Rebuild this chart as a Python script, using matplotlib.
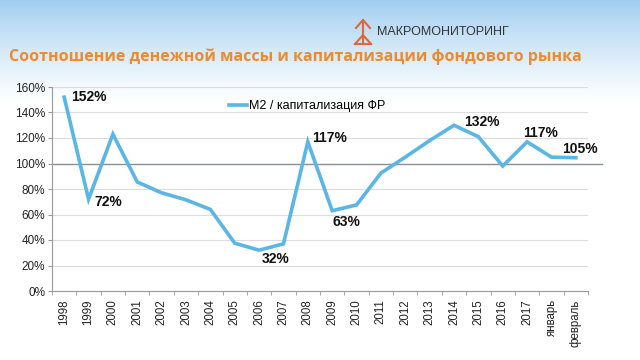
import numpy as np
import matplotlib
matplotlib.use("Agg")
import matplotlib.pyplot as plt

plt.rcParams['font.family'] = ['Liberation Sans', 'DejaVu Sans']

# data
categories = ["1998", "1999", "2000", "2001", "2002", "2003", "2004", "2005", "2006", "2007",
              "2008", "2009", "2010", "2011", "2012", "2013", "2014", "2015", "2016", "2017",
              "январь", "февраль"]
ratio = [152, 72, 123, 85.5, 77, 71.5, 64, 37.5, 32, 37,
         117, 63, 67.5, 92.5, 105, 118, 130, 121, 98, 117,
         105, 104.5]
labels_idx = [0, 1, 8, 10, 11, 16, 19, 21]
labels_txt = ["152%", "72%", "32%", "117%", "63%", "132%", "117%", "105%"]
labels_off = [(5, 0), (4, -2), (2, -6), (3, 3), (0, -8), (7, 2), (-3, 6), (-10, 6)]

title = "Соотношение денежной массы и капитализации фондового рынка"
series_name = "M2 / капитализация ФР"

fig = plt.figure(figsize=(6.4, 3.6), dpi=100)

# sky background
bg = fig.add_axes([0, 0, 1, 1])
grad = np.linspace(0, 1, 360)[:, None]
top = np.array([0.62, 0.80, 0.94])
white = np.array([1.0, 1.0, 1.0])
w = np.clip(grad / 0.28, 0, 1) ** 0.8
img = top[None, None, :] * (1 - w[..., None]) + white[None, None, :] * w[..., None]
img = np.repeat(img, 640, axis=1)
bg.imshow(img, aspect='auto', extent=[0, 640, 360, 0])
bg.set_xlim(0, 640)
bg.set_ylim(360, 0)
bg.axis('off')

# logo
c_logo = "#e0673a"
bg.plot([363, 363], [20, 44], color=c_logo, lw=1.5)
bg.plot([356, 363, 370], [28, 20, 28], color=c_logo, lw=1.5)
bg.plot([355, 363, 371], [44, 35, 44], color=c_logo, lw=1.5)
bg.plot([355, 371], [44, 44], color=c_logo, lw=1.5)
bg.text(377, 32, "МАКРОМОНИТОРИНГ", fontsize=9, color="#333333", va='center', ha='left')

# title
bg.text(9, 57, title, fontsize=11.5, fontweight='bold', color="#ec8a2e",
        va='center', ha='left', family=['Open Sans', 'DejaVu Sans'])

ax = fig.add_axes([52 / 640, 1 - 291 / 360, (588 - 52) / 640, (291 - 87) / 360])
ax.patch.set_alpha(0)
x = np.arange(len(categories))
line_color = "#5ab6e4"
ax.plot(x, ratio, color=line_color, lw=2.6, label=series_name, solid_joinstyle='miter')

ax.set_xlim(-0.5, len(categories) - 0.5)
ax.set_ylim(0, 160)
ax.set_yticks(np.arange(0, 161, 20))
ax.set_yticklabels([f"{v}%" for v in range(0, 161, 20)], fontsize=8.5, color="#222222")
ax.set_xticks(x)
ax.set_xticklabels(categories, rotation=90, fontsize=8.3, color="#222222")
ax.set_xticks(np.arange(-0.5, len(categories), 1), minor=True)
ax.tick_params(axis='x', which='major', length=0, pad=6)
ax.tick_params(axis='x', which='minor', length=3, color="#999999")
ax.tick_params(axis='y', length=3, color="#999999", pad=2)

ax.grid(axis='y', color="#dddddd", lw=0.8)
ax.set_axisbelow(True)
for s in ['top', 'right']:
    ax.spines[s].set_visible(False)
for s in ['left', 'bottom']:
    ax.spines[s].set_color("#999999")
    ax.spines[s].set_linewidth(0.8)

# 100% reference line
ax.plot([0, 1.027], [100, 100], color="#8a8f99", lw=1.0,
        transform=ax.get_yaxis_transform(), clip_on=False, zorder=1)

for i, t, (dx, dy) in zip(labels_idx, labels_txt, labels_off):
    ax.annotate(t, (x[i], ratio[i]), xytext=(dx, dy), textcoords='offset points',
                fontsize=10, fontweight='bold', color="#111111", ha='left', va='center')

ax.legend(loc='upper left', bbox_to_anchor=(0.31, 0.99), frameon=False, fontsize=9,
          handlelength=1.4, handletextpad=0.2)

fig.savefig("out.png", dpi=100)
